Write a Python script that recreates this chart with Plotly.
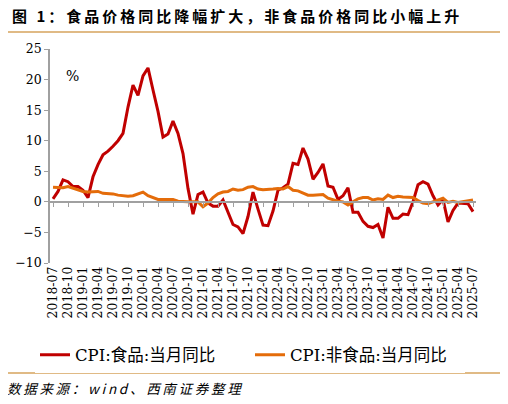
import pandas as pd
import plotly.graph_objects as go

# monthly categories 2018-07 .. 2025-07
months = pd.period_range("2018-07", "2025-07", freq="M").strftime("%Y-%m").tolist()
tick_labels = months[::3]

# CPI food YoY (%)
food = [0.5, 1.7, 3.6, 3.3, 2.5, 2.5,
        1.9, 0.7, 4.1, 6.1, 7.7, 8.3, 9.1, 10.0, 11.2, 15.5, 19.1, 17.4,
        20.6, 21.9, 18.3, 14.8, 10.6, 11.1, 13.2, 11.2, 7.9, 2.2, -2.0, 1.2,
        1.6, -0.2, -0.7, -0.7, 0.3, -1.7, -3.7, -4.1, -5.2, -2.4, 1.6, -1.2,
        -3.8, -3.9, -1.5, 1.9, 2.3, 2.9, 6.3, 6.1, 8.8, 7.0, 3.7, 4.8,
        6.2, 2.6, 2.4, 0.4, 1.0, 2.3, -1.7, -1.7, -3.2, -4.0, -4.2, -3.7,
        -5.9, -0.9, -2.7, -2.7, -2.0, -2.1, 0.0, 2.8, 3.3, 2.9, 1.0, -0.5,
        0.4, -3.3, -1.4, -0.2, -0.2, -0.3, -1.6]

# CPI non-food YoY (%)
nonfood = [2.4, 2.4, 2.3, 2.5, 2.2, 1.9,
           1.7, 1.6, 1.7, 1.7, 1.4, 1.4, 1.3, 1.1, 1.0, 0.9, 1.0, 1.3,
           1.6, 1.0, 0.7, 0.4, 0.4, 0.4, 0.4, 0.1, 0.0, 0.0, 0.0, 0.0,
           -0.8, -0.2, 0.7, 1.3, 1.6, 1.7, 2.1, 1.9, 2.0, 2.4, 2.5, 2.1,
           2.0, 2.0, 2.1, 2.2, 2.1, 2.5, 1.9, 1.8, 1.5, 1.1, 1.1, 1.1,
           1.2, 0.6, 0.3, 0.1, 0.0, -0.5, 0.0, 0.5, 0.7, 0.7, 0.3, 0.5,
           0.4, 1.1, 0.7, 0.9, 0.8, 0.7, 0.7, 0.2, -0.2, -0.3, 0.0, 0.3,
           0.6, -0.1, 0.1, -0.1, 0.0, 0.1, 0.3]

serif = "DejaVu Serif"
cjk = "Noto Sans CJK SC"
gray = "#A0A0A0"

title = "图 1：食品价格同比降幅扩大，非食品价格同比小幅上升"
source = "数据来源：wind、西南证券整理"
spaced = lambda s: "\u2009".join(s)

# page body adds an 8px margin, so the figure is 8px smaller than the window
W, H = 500, 396
px = lambda X: (X - 50) / 426      # reference pixel -> paper x
py = lambda Y: (263 - Y) / 214     # reference pixel -> paper y

fig = go.Figure()
fig.add_trace(go.Scatter(x=months, y=food, name="CPI:食品:当月同比", mode="lines",
                         line=dict(color="#C00000", width=3)))
fig.add_trace(go.Scatter(x=months, y=nonfood, name="CPI:非食品:当月同比", mode="lines",
                         xaxis="x2", line=dict(color="#E46C0A", width=3)))

fig.update_layout(
    width=W, height=H,
    margin=dict(l=42, r=32, t=41, b=141, autoexpand=False),
    paper_bgcolor="white", plot_bgcolor="white",
    xaxis=dict(type="category", range=[-0.6, 84.6], tickvals=tick_labels,
               tickangle=-90, showline=False, ticks="", showgrid=False,
               tickfont=dict(family=serif, size=12.5, color="#000")),
    xaxis2=dict(type="category", overlaying="x", matches="x", anchor="free",
                position=10 / 35, showline=True, linecolor=gray, linewidth=1.5,
                ticks="outside", ticklen=4, tickcolor=gray, tickvals=tick_labels,
                showticklabels=False, showgrid=False),
    yaxis=dict(range=[-10, 25], dtick=5, showline=True, linecolor=gray, linewidth=1.5,
               ticks="outside", ticklen=4, tickcolor=gray, showgrid=False, zeroline=False,
               tickfont=dict(family=serif, size=12.5, color="#000")),
    legend=dict(orientation="h", x=px(35), xanchor="left", y=py(355),
                yanchor="middle", entrywidth=170,
                font=dict(family=serif + ", " + cjk, size=16.5, color="#000")),
    showlegend=True,
)

# chart title as a paper annotation
fig.add_annotation(text="<b>" + spaced(title) + "</b>", xref="paper", yref="paper",
                   x=px(10), y=py(16), xanchor="left", yanchor="middle",
                   showarrow=False, font=dict(family=cjk, size=15, color="#000"))
fig.add_annotation(text="%", xref="paper", yref="paper", x=px(64), y=py(66),
                   showarrow=False, font=dict(family=serif, size=14, color="#000"))
fig.add_annotation(text="<i>" + spaced(source) + "</i>", xref="paper", yref="paper",
                   x=px(5), y=py(388), xanchor="left", yanchor="middle",
                   showarrow=False, font=dict(family=cjk, size=13.5, color="#000"))

line_color = "#D6A35C"
for Y in (32, 373):
    fig.add_shape(type="line", xref="paper", yref="paper", x0=px(8), x1=px(504),
                  y0=py(Y), y1=py(Y), line=dict(color=line_color, width=1.5))

fig.write_html("out.html")
